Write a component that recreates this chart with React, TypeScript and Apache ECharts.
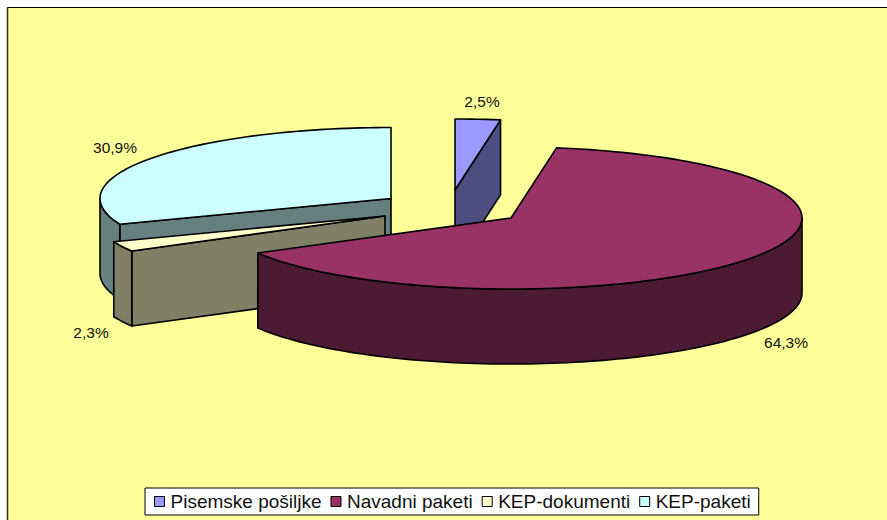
import React, { useEffect, useRef } from "react";
import * as echarts from "echarts";

const categories = ["Pisemske pošiljke", "Navadni paketi", "KEP-dokumenti", "KEP-paketi"];
const shares = [2.5, 64.3, 2.3, 30.9];

const topColors = ["#9999FF", "#993366", "#FFFFCC", "#CCFFFF"];
const wallColors = ["#4D4D80", "#4D1A33", "#808066", "#668080"];
// pie-slice geometry (layout only)
const centers = [[455, 190], [511, 218], [385, 216], [391, 198.5]];
const labelAt = [[482, 101], [786, 342], [91, 332], [115, 147]];
const drawOrder = [3, 0, 2, 1];
const RX = 291;
const RY = 71;
const DEPTH = 75;
const FONT = "'Liberation Sans', Arial, sans-serif";
const INK = "#111111";

const total = shares.reduce((a, b) => a + b, 0);

function ellipsePoint(cx: number, cy: number, deg: number) {
  const t = (deg * Math.PI) / 180;
  return [cx + RX * Math.sin(t), cy - RY * Math.cos(t)];
}

function arc(cx: number, cy: number, from: number, to: number) {
  const pts: number[][] = [];
  const steps = Math.max(2, Math.ceil(Math.abs(to - from) / 1.5));
  for (let i = 0; i <= steps; i++) pts.push(ellipsePoint(cx, cy, from + ((to - from) * i) / steps));
  return pts;
}

function sliceRenderer(index: number) {
  const before = shares.slice(0, index).reduce((a, b) => a + b, 0);
  return (_params: any, api: any) => {
    const value = api.value(0) as number;
    const a0 = (before / total) * 360;
    const a1 = a0 + (value / total) * 360;
    const [cx, cy] = centers[index];
    const lineStyle = { stroke: "#000000", lineWidth: 1.6, lineJoin: "round" };
    const children: any[] = [];
    const wall = (points: number[][]) =>
      children.push({
        type: "polygon",
        shape: { points },
        style: { ...lineStyle, fill: wallColors[index] },
      });
    const p0 = ellipsePoint(cx, cy, a0);
    const p1 = ellipsePoint(cx, cy, a1);
    const down = (p: number[]) => [p[0], p[1] + DEPTH];
    if (Math.sin((a0 * Math.PI) / 180) < -1e-6) {
      wall([[cx, cy], p0, down(p0), [cx, cy + DEPTH]]);
    }
    if (Math.sin((a1 * Math.PI) / 180) > 1e-6) {
      wall([[cx, cy], p1, down(p1), [cx, cy + DEPTH]]);
    }
    const f0 = Math.max(a0, 90);
    const f1 = Math.min(a1, 270);
    if (f1 > f0) {
      const outer = arc(cx, cy, f0, f1);
      wall([...outer, ...outer.slice().reverse().map(down)]);
    }
    children.push({
      type: "polygon",
      shape: { points: [[cx, cy], ...arc(cx, cy, a0, a1)] },
      style: { ...lineStyle, fill: topColors[index] },
    });
    children.push({
      type: "text",
      style: {
        text: value.toFixed(1).replace(".", ",") + "%",
        x: labelAt[index][0],
        y: labelAt[index][1],
        align: "center",
        verticalAlign: "middle",
        fill: INK,
        font: `15.5px ${FONT}`,
      },
    });
    return { type: "group", children };
  };
}

export default function App() {
  const ref = useRef<HTMLDivElement>(null);
  useEffect(() => {
    const chart = echarts.init(ref.current!, undefined, { renderer: "svg" });
    chart.setOption({
      animation: false,
      backgroundColor: "#FFFFFF",
      graphic: [
        { type: "rect", z: -10, shape: { x: 7, y: 7, width: 880, height: 513 }, style: { fill: "#FFFF99" } },
        { type: "line", z: -9, shape: { x1: 7, y1: 7.5, x2: 887, y2: 7.5 }, style: { stroke: "#000000", lineWidth: 1 } },
        { type: "line", z: -9, shape: { x1: 7.5, y1: 7, x2: 7.5, y2: 520 }, style: { stroke: "#33332A", lineWidth: 1.6 } },
      ],
      legend: {
        left: 145,
        top: 488,
        orient: "horizontal",
        padding: [4, 8, 4, 9],
        itemGap: 9,
        itemWidth: 10,
        itemHeight: 10,
        selectedMode: false,
        backgroundColor: "#FFFFFF",
        borderColor: "#000000",
        borderWidth: 1,
        borderRadius: 0,
        icon: "rect",
        textStyle: { fontFamily: FONT, fontSize: 19, color: INK, padding: [0, 0, 0, 1] },
        data: categories.map((name, i) => ({
          name,
          itemStyle: { color: topColors[i], borderColor: "#000000", borderWidth: 1 },
        })),
      },
      series: drawOrder.map((i, order) => ({
        type: "custom",
        name: categories[i],
        coordinateSystem: "none",
        z: 2 + order,
        silent: true,
        itemStyle: { color: topColors[i] },
        data: [shares[i]],
        renderItem: sliceRenderer(i),
      })),
    });
    return () => chart.dispose();
  }, []);
  return <div ref={ref} style={{ position: "absolute", left: 0, top: 0, width: 887, height: 520 }} />;
}
